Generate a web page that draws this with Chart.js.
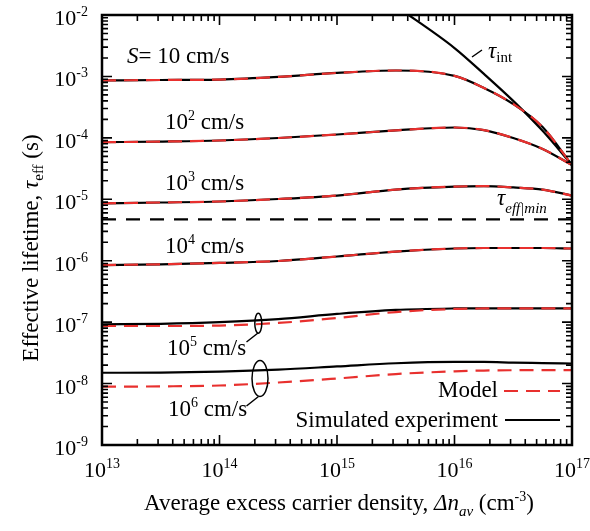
<!DOCTYPE html>
<html>
<head>
<meta charset="utf-8">
<script src="https://cdn.jsdelivr.net/npm/chart.js@4.4.0/dist/chart.umd.min.js"></script>
<style>
  body { margin: 0; background: #fff; }
  #wrap { width: 590px; height: 531px; }
</style>
</head>
<body>
<div id="wrap"><canvas id="chart"></canvas></div>
<script>
// DATA
// average excess carrier density grid (cm^-3)
const density = [1e13, 3.16e13, 1e14, 3.16e14, 1e15, 3.16e15, 1e16, 1.78e16, 3.16e16, 5.62e16, 1e17];

// simulated experiment, tau_eff (s)
const expS1 = [8.6e-4, 8.75e-4, 8.9e-4, 9.8e-4, 1.14e-3, 1.25e-3, 1.02e-3, 6.5e-4, 3.56e-4, 1.5e-4, 3.6e-5];
const expS2 = [8.5e-5, 8.7e-5, 9.05e-5, 9.95e-5, 1.135e-4, 1.32e-4, 1.475e-4, 1.34e-4, 9.95e-5, 6.6e-5, 3.6e-5];
const expS3 = [8.6e-6, 8.87e-6, 9.2e-6, 1.01e-5, 1.15e-5, 1.44e-5, 1.61e-5, 1.64e-5, 1.56e-5, 1.44e-5, 1.15e-5];
const expS4 = [8.5e-7, 8.75e-7, 9.2e-7, 9.9e-7, 1.17e-6, 1.41e-6, 1.58e-6, 1.61e-6, 1.61e-6, 1.61e-6, 1.58e-6];
const expS5 = [9.2e-8, 9.4e-8, 1.0e-7, 1.12e-7, 1.36e-7, 1.58e-7, 1.67e-7, 1.68e-7, 1.68e-7, 1.68e-7, 1.68e-7];
const expS6 = [1.5e-8, 1.51e-8, 1.57e-8, 1.69e-8, 1.9e-8, 2.14e-8, 2.25e-8, 2.25e-8, 2.2e-8, 2.16e-8, 2.12e-8];

// model, tau_eff (s)
const modS1 = [8.6e-4, 8.75e-4, 8.9e-4, 9.8e-4, 1.14e-3, 1.25e-3, 1.02e-3, 6.5e-4, 3.56e-4, 1.5e-4, 3.6e-5];
const modS2 = [8.5e-5, 8.7e-5, 9.05e-5, 9.95e-5, 1.135e-4, 1.32e-4, 1.475e-4, 1.34e-4, 9.95e-5, 6.6e-5, 3.6e-5];
const modS3 = [8.6e-6, 8.87e-6, 9.2e-6, 1.01e-5, 1.15e-5, 1.44e-5, 1.61e-5, 1.64e-5, 1.56e-5, 1.44e-5, 1.15e-5];
const modS4 = [8.5e-7, 8.75e-7, 9.2e-7, 9.9e-7, 1.17e-6, 1.41e-6, 1.58e-6, 1.61e-6, 1.61e-6, 1.61e-6, 1.58e-6];
const modS5 = [8.65e-8, 8.65e-8, 8.8e-8, 9.7e-8, 1.17e-7, 1.46e-7, 1.64e-7, 1.67e-7, 1.68e-7, 1.68e-7, 1.68e-7];
const modS6 = [8.9e-9, 9.0e-9, 9.3e-9, 1.04e-8, 1.21e-8, 1.43e-8, 1.58e-8, 1.63e-8, 1.65e-8, 1.66e-8, 1.66e-8];

// intrinsic lifetime
const intDensity = [3.16e15, 1e16, 1.78e16, 3.16e16, 5.62e16, 1e17];
const tauInt = [1.4e-2, 2.9e-3, 1.1e-3, 4.0e-4, 1.3e-4, 3.6e-5];

// tau_eff|min
const minDensity = [1e13, 1e17];
const tauEffMin = [4.7e-6, 4.7e-6];

// axis ticks (decade exponents)
const xExponents = [13, 14, 15, 16, 17];
const yExponents = [-2, -3, -4, -5, -6, -7, -8, -9];

const RED = '#e8302e';
const FONT = '"Liberation Serif", "Times New Roman", serif';

function pts(xs, ys) {
    return xs.map((v, i) => ({ x: v, y: ys[i] }));
}

function expLine(ys) {
    return { data: pts(density, ys), borderColor: '#000', borderWidth: 2.2, order: 2 };
}
function modLine(ys) {
    return { data: pts(density, ys), borderColor: RED, borderWidth: 2.2, borderDash: [14, 8], order: 1 };
}

function font(p) {
    return (p.i ? 'italic ' : '') + (p.s || 23) + 'px ' + FONT;
}

// draw a run of text pieces (for sub/superscripts)
function rich(ctx, parts, x, y, align) {
    let w = 0;
    parts.forEach(p => { ctx.font = font(p); p.w = ctx.measureText(p.t).width; w += p.w; });
    let cx = align === 'right' ? x - w : align === 'center' ? x - w / 2 : x;
    ctx.textAlign = 'left';
    ctx.textBaseline = 'alphabetic';
    parts.forEach(p => { ctx.font = font(p); ctx.fillText(p.t, cx, y + (p.dy || 0)); cx += p.w; });
}

function pow10(e, size) {
    return [{ t: '10', s: size }, { t: String(e), s: 14, dy: -9 }];
}

const decor = {
    id: 'decor',
    afterDatasetsDraw(chart) {
        const { ctx, chartArea: a, scales: { x, y } } = chart;
        ctx.save();
        ctx.strokeStyle = '#000';
        ctx.fillStyle = '#000';

        // inward ticks on all sides
        ctx.lineWidth = 1.6;
        ctx.beginPath();
        for (let e = 13; e < 17; e++) {
            for (let m = 1; m <= 9; m++) {
                const px = x.getPixelForValue(m * Math.pow(10, e));
                const len = m === 1 ? 10 : 6;
                ctx.moveTo(px, a.bottom); ctx.lineTo(px, a.bottom - len);
                ctx.moveTo(px, a.top); ctx.lineTo(px, a.top + len);
            }
        }
        for (let e = -9; e < -2; e++) {
            for (let m = 1; m <= 9; m++) {
                const py = y.getPixelForValue(m * Math.pow(10, e));
                const len = m === 1 ? 10 : 6;
                ctx.moveTo(a.left, py); ctx.lineTo(a.left + len, py);
                ctx.moveTo(a.right, py); ctx.lineTo(a.right - len, py);
            }
        }
        ctx.stroke();

        // frame
        ctx.lineWidth = 2.5;
        ctx.strokeRect(a.left, a.top, a.right - a.left, a.bottom - a.top);

        // tick labels
        xExponents.forEach(e => rich(ctx, pow10(e, 22), x.getPixelForValue(Math.pow(10, e)), a.bottom + 32, 'center'));
        yExponents.forEach(e => rich(ctx, pow10(e, 22), a.left - 14, y.getPixelForValue(Math.pow(10, e)) + 10, 'right'));

        // axis titles
        rich(ctx, [
            { t: 'Average excess carrier density, ' },
            { t: '\u0394n', i: true },
            { t: 'av', i: true, s: 15, dy: 6 },
            { t: ' (cm' },
            { t: '-3', s: 14, dy: -9 },
            { t: ')' }
        ], 339, 510, 'center');

        ctx.save();
        ctx.translate(38, 248);
        ctx.rotate(-Math.PI / 2);
        rich(ctx, [
            { t: 'Effective lifetime, ' },
            { t: '\u03c4', i: true },
            { t: 'eff', s: 15, dy: 5 },
            { t: ' (s)' }
        ], 0, 0, 'center');
        ctx.restore();

        // series labels
        rich(ctx, [{ t: 'S', i: true }, { t: '= 10 cm/s' }], 127, 63, 'left');
        rich(ctx, pow10(2).concat([{ t: ' cm/s' }]), 165, 129, 'left');
        rich(ctx, pow10(3).concat([{ t: ' cm/s' }]), 165, 190, 'left');
        rich(ctx, pow10(4).concat([{ t: ' cm/s' }]), 165, 253, 'left');
        rich(ctx, pow10(5).concat([{ t: ' cm/s' }]), 167, 355, 'left');
        rich(ctx, pow10(6).concat([{ t: ' cm/s' }]), 168, 416, 'left');

        rich(ctx, [{ t: '\u03c4', i: true }, { t: 'int', s: 15, dy: 4 }], 488, 58, 'left');
        rich(ctx, [{ t: '\u03c4', i: true }, { t: 'eff|min', i: true, s: 15, dy: 8 }], 497, 205, 'left');

        // leader lines and ellipses
        ctx.lineWidth = 1.5;
        ctx.beginPath();
        ctx.moveTo(472, 57); ctx.lineTo(482, 50);
        ctx.moveTo(246.5, 342); ctx.lineTo(258, 333);
        ctx.moveTo(246.5, 406); ctx.lineTo(258.5, 396.5);
        ctx.stroke();
        ctx.beginPath();
        ctx.ellipse(258.3, 323.3, 3.5, 10, 0, 0, Math.PI * 2);
        ctx.stroke();
        ctx.beginPath();
        ctx.ellipse(260, 378.5, 8, 18, 0, 0, Math.PI * 2);
        ctx.stroke();

        // legend
        rich(ctx, [{ t: 'Model' }], 498, 397, 'right');
        rich(ctx, [{ t: 'Simulated experiment' }], 498, 427, 'right');
        ctx.lineWidth = 2.2;
        ctx.strokeStyle = RED;
        ctx.setLineDash([14, 8]);
        ctx.beginPath(); ctx.moveTo(504, 391); ctx.lineTo(560, 391); ctx.stroke();
        ctx.setLineDash([]);
        ctx.strokeStyle = '#000';
        ctx.beginPath(); ctx.moveTo(505, 420); ctx.lineTo(560, 420); ctx.stroke();

        ctx.restore();
    }
};

new Chart(document.getElementById('chart'), {
    type: 'line',
    data: {
        datasets: [
            expLine(expS1), expLine(expS2), expLine(expS3),
            expLine(expS4), expLine(expS5), expLine(expS6),
            modLine(modS1), modLine(modS2), modLine(modS3),
            modLine(modS4), modLine(modS5), modLine(modS6),
            { data: pts(intDensity, tauInt), borderColor: '#000', borderWidth: 2.2, order: 3 },
            { data: pts(minDensity, tauEffMin), borderColor: '#000', borderWidth: 2.2, borderDash: [14, 10], order: 3 }
        ]
    },
    options: {
        responsive: true,
        maintainAspectRatio: false,
        animation: false,
        layout: { padding: { left: 102, right: 18, top: 15, bottom: 86 } },
        elements: {
            point: { radius: 0 },
            line: { cubicInterpolationMode: 'monotone', fill: false }
        },
        plugins: { legend: { display: false }, tooltip: { enabled: false } },
        scales: {
            x: { type: 'logarithmic', min: 1e13, max: 1e17, display: false },
            y: { type: 'logarithmic', min: 1e-9, max: 1e-2, display: false }
        }
    },
    plugins: [decor]
});
</script>
</body>
</html>
